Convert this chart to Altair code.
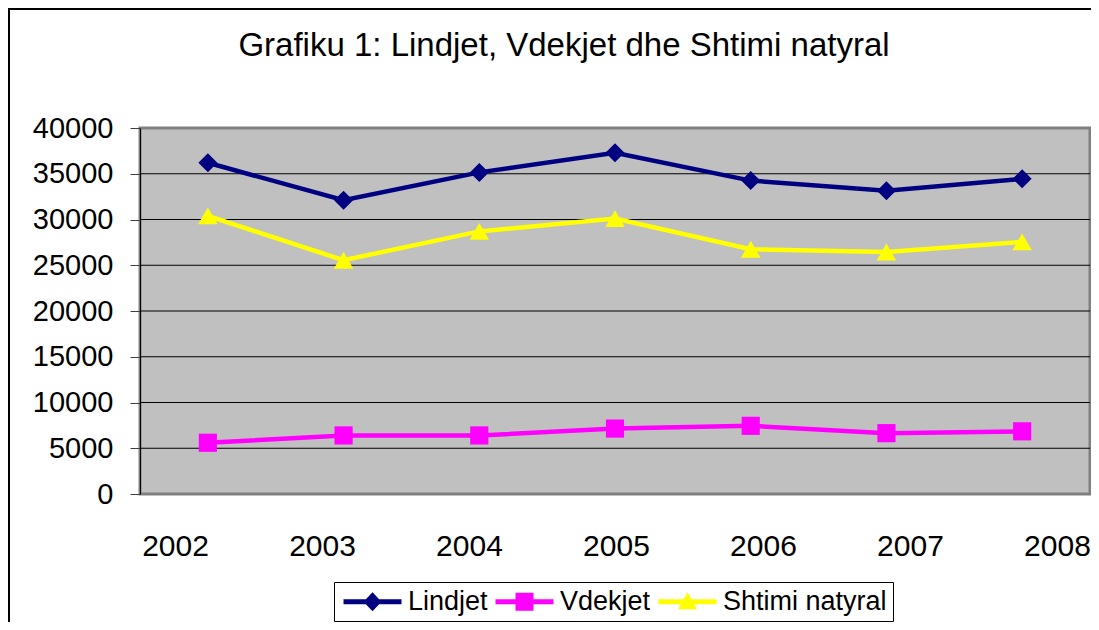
import altair as alt
import pandas as pd

years = ["2002", "2003", "2004", "2005", "2006", "2007", "2008"]
series_names = ["Lindjet", "Vdekjet", "Shtimi natyral"]
lindjet = [36200, 32100, 35150, 37300, 34250, 33150, 34450]
vdekjet = [5600, 6400, 6400, 7150, 7450, 6650, 6850]
shtimi = [30400, 25550, 28700, 30100, 26750, 26450, 27550]
y_ticks = [0, 5000, 10000, 15000, 20000, 25000, 30000, 35000, 40000]
grid_vals = [5000, 10000, 15000, 20000, 25000, 30000, 35000]
title_text = "Grafiku 1: Lindjet, Vdekjet dhe Shtimi natyral"

colors = ["#000080", "#FF00FF", "#FFFF00"]
point_shapes = ["diamond", "square", "triangle-up"]
point_sizes = [361, 330, 380]
legend_paths = [
    "M-1,-0.25H4.8V0.25H-1Z M1.9,-0.95L2.8,0L1.9,0.95L1,0Z",
    "M-1,-0.25H4.8V0.25H-1Z M1,-0.9H2.8V0.9H1Z",
    "M-1,-0.25H4.8V0.25H-1Z M1.9,-0.95L2.85,0.75H0.95Z",
]

rows = []
for name, vals in zip(series_names, [lindjet, vdekjet, shtimi]):
    for yr, v in zip(years, vals):
        rows.append({"year": yr, "series": name, "value": v})
df = pd.DataFrame(rows)
grid_df = pd.DataFrame({"g": grid_vals})

FONT = "Liberation Sans"
W, H = 950, 366

color_scale = alt.Scale(domain=series_names, range=colors)
x_main = alt.X("year:O", scale=alt.Scale(type="point", domain=years, padding=0.5), axis=None)
y_main = alt.Y(
    "value:Q",
    scale=alt.Scale(domain=[0, 40000], nice=False, zero=True),
    axis=alt.Axis(
        values=y_ticks, format="d", title=None, grid=False, labelFontSize=29, labelFont=FONT,
        labelColor="black", tickSize=10, tickColor="#404040", tickWidth=1,
        labelPadding=17, domainColor="black", domainWidth=1,
    ),
)

grid = alt.Chart(grid_df).mark_rule(color="black", strokeWidth=1).encode(
    y=alt.Y("g:Q", scale=alt.Scale(domain=[0, 40000], nice=False))
)

series_layers = []
for name, col, shp, sz in zip(series_names, colors, point_shapes, point_sizes):
    base = alt.Chart(df).transform_filter(alt.datum.series == name)
    series_layers.append(
        base.mark_line(color=col, strokeWidth=4.5).encode(x=x_main, y=y_main)
    )
    series_layers.append(
        base.mark_point(color=col, shape=shp, filled=True, size=sz, opacity=1,
                        strokeWidth=0).encode(x=x_main, y=y_main)
    )

inner = alt.layer(grid, *series_layers)

leg = alt.Legend(
    orient="none", legendX=194, legendY=454, direction="horizontal", title=None,
    labelFontSize=27, labelFont=FONT, labelColor="black", labelLimit=400, symbolSize=400,
    symbolStrokeWidth=0, labelOffset=41, columnPadding=4, padding=6,
    strokeColor="black", fillColor="white", symbolOpacity=1, columns=3,
)

label_layer = alt.Chart(df).transform_filter("false").mark_point(filled=True).encode(
    x=alt.X(
        "year:O",
        scale=alt.Scale(type="point", domain=years, padding=0.2313, align=0.5147),
        axis=alt.Axis(orient="bottom", title=None, ticks=False, domain=False, grid=False,
                      labelFontSize=30, labelFont=FONT, labelColor="black",
                      labelPadding=37, labelAngle=0),
    ),
    color=alt.Color("series:N", scale=color_scale, legend=leg),
    shape=alt.Shape("series:N", scale=alt.Scale(domain=series_names, range=legend_paths), legend=leg),
)

frame_left = alt.Chart(grid_df).mark_rule(color="black", strokeWidth=2).encode(
    x=alt.value(-131), y=alt.value(-120), y2=alt.value(494)
)
frame_top = alt.Chart(grid_df).mark_rule(color="black", strokeWidth=2).encode(
    x=alt.value(-132), x2=alt.value(951), y=alt.value(-119)
)

chart = alt.layer(inner, label_layer, frame_left, frame_top).resolve_scale(
    x="independent"
).properties(
    width=W, height=H,
    title=alt.TitleParams(
        title_text, fontSize=33, font=FONT, fontWeight="normal", color="black",
        anchor="middle", frame="group", dx=-51, dy=82, offset=0, baseline="alphabetic",
    ),
    autosize=alt.AutoSizeParams(type="none"),
    padding={"left": 132, "top": 120, "right": 1, "bottom": 128},
).configure(
    background="white", font=FONT,
    view=alt.ViewConfig(fill="#C0C0C0", stroke="#808080", strokeWidth=3),
)

chart.save("out.html", embed_options={"renderer": "svg", "actions": False})
